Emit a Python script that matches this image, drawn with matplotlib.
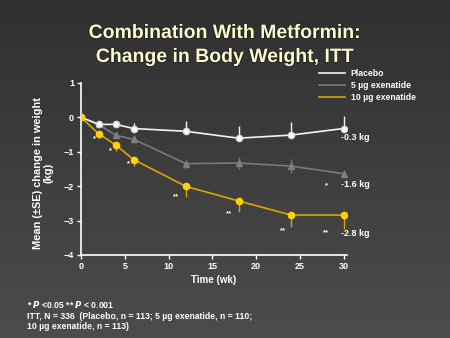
import numpy as np
import matplotlib
matplotlib.use("Agg")
import matplotlib.pyplot as plt
import matplotlib.patheffects as pe

plt.rcParams['font.family'] = ['Liberation Sans', 'DejaVu Sans']
plt.rcParams['font.weight'] = 'bold'

# Data: mean change in body weight (kg) by week
weeks = [0, 2, 4, 6, 12, 18, 24, 30]
placebo = [0.0, -0.21, -0.21, -0.33, -0.41, -0.61, -0.52, -0.33]
placebo_se = [0.0, 0.05, 0.10, 0.15, 0.29, 0.34, 0.38, 0.37]
exen5 = [0.0, -0.21, -0.53, -0.64, -1.35, -1.33, -1.42, -1.64]
exen5_se = [0.0, 0.05, 0.10, 0.12, 0.12, 0.17, 0.20, 0.10]
exen10 = [0.0, -0.48, -0.81, -1.23, -2.01, -2.43, -2.84, -2.84]
exen10_se = [0.0, 0.13, 0.16, 0.20, 0.30, 0.32, 0.34, 0.40]

series_labels = ["Placebo", "5 \u00b5g exenatide", "10 \u00b5g exenatide"]
end_labels = ["-0.3 kg", "-1.6 kg", "-2.8 kg"]
end_label_y = [-0.59, -1.95, -3.39]

# significance marks: (week, y, text)
sig_marks = [(1.5, -0.64, "*"), (3.4, -0.96, "*"), (5.4, -1.34, "*"),
             (10.9, -2.30, "**"), (16.9, -2.81, "**"), (23.1, -3.29, "**"),
             (28.0, -3.36, "**"), (28.1, -2.00, "*")]

x_ticks = [0, 5, 10, 15, 20, 25, 30]
y_ticks = [1, 0, -1, -2, -3, -4]

W, H = 450, 338
fig = plt.figure(figsize=(W / 100, H / 100), dpi=100)

# background gradient
bg = fig.add_axes([0, 0, 1, 1], zorder=-10)
grad = np.linspace(0, 1, 256).reshape(-1, 1)
top = np.array([0x30, 0x30, 0x30]) / 255
bot = np.array([0x4c, 0x4c, 0x4c]) / 255
img = top + (bot - top) * grad[..., None]
bg.imshow(img, aspect='auto', extent=[0, 1, 0, 1], origin='upper')
bg.set_axis_off()

ax = fig.add_axes([81 / W, 1 - 255 / H, 266 / W, (255 - 82.7) / H])
ax.patch.set_alpha(0)

col_pl, col_5, col_10 = "#f4f4ee", "#7a7a7a", "#d4a800"
mk_pl, mk_5, mk_10 = "#ffffff", "#7f7f7f", "#ffd200"

ax.errorbar(weeks, exen5, yerr=[exen5_se, exen5_se], color=col_5, lw=1.2,
            marker='^', ms=4.5, mfc=mk_5, mec=mk_5, elinewidth=1, capsize=0,
            label=series_labels[1], zorder=3)
ax.errorbar(weeks, placebo, yerr=[[0] * len(weeks), placebo_se], color=col_pl,
            lw=1.2, marker='o', ms=4.5, mfc=mk_pl, mec="#d8d8d8", elinewidth=1,
            capsize=0, label=series_labels[0], zorder=4)
ax.errorbar(weeks, exen10, yerr=[exen10_se, [0] * len(weeks)], color=col_10,
            lw=1.2, marker='o', ms=4.5, mfc=mk_10, mec=mk_10, elinewidth=1,
            capsize=0, label=series_labels[2], zorder=5)

for x, y, t in sig_marks:
    ax.text(x, y, t, color='white', fontsize=5.5, ha='center', va='center')

for t, y in zip(end_labels, end_label_y):
    ax.text(29.75, y, t, color='white', fontsize=6.5, ha='left', va='center',
            clip_on=False)

ax.set_xlim(0, 30.4)
ax.set_ylim(-4, 1)
ax.set_xticks(x_ticks)
ax.set_yticks(y_ticks)
for s in ['top', 'right']:
    ax.spines[s].set_visible(False)
for s in ['left', 'bottom']:
    ax.spines[s].set_color('white')
    ax.spines[s].set_linewidth(1.2)
ax.tick_params(colors='white', labelsize=6.5, length=3, width=1, pad=2)
for lab in ax.get_xticklabels() + ax.get_yticklabels():
    lab.set_fontweight('bold')

ax.set_xlabel("Time (wk)", color='white', fontsize=7, fontweight='bold', labelpad=3)
fig.text(43 / W, 1 - 173 / H, "Mean (\u00b1SE) change in weight\n(kg)",
         rotation=90, color='white', fontsize=7.9, fontweight='bold',
         ha='center', va='center', linespacing=1.1)

handles, labels = ax.get_legend_handles_labels()
order = [labels.index(l) for l in series_labels]
leg = ax.legend([handles[i][0] for i in order], [labels[i] for i in order],
                loc='upper left', bbox_to_anchor=(319 / W, 1 - 69.5 / H),
                bbox_transform=fig.transFigure, frameon=False, fontsize=6.2,
                handlelength=3.0, handletextpad=0.7, labelspacing=0.3,
                borderpad=0, borderaxespad=0)
for txt in leg.get_texts():
    txt.set_color('white')
    txt.set_fontweight('bold')
for h in leg.legend_handles:
    h.set_marker('')

title_fx = [pe.withStroke(linewidth=1.2, foreground='#222222')]
fig.text(0.5, 1 - 33.5 / H, "Combination With Metformin:", ha='center',
         va='center', color='#fdfbd0', fontsize=14, fontweight='bold',
         path_effects=title_fx)
fig.text(0.5, 1 - 57.5 / H, "Change in Body Weight, ITT", ha='center',
         va='center', color='#fdfbd0', fontsize=14, fontweight='bold',
         path_effects=title_fx)

foot = ("* $\\it{P}$ <0.05 ** $\\it{P}$ < 0.001\n"
        "ITT, N = 336  (Placebo, n = 113; 5 \u00b5g exenatide, n = 110;\n"
        "10 \u00b5g exenatide, n = 113)")
fig.text(27 / W, 1 - 299.5 / H, foot, ha='left', va='top', color='white',
         fontsize=6.2, fontweight='bold', linespacing=1.2)

fig.savefig("out.png", dpi=100)
